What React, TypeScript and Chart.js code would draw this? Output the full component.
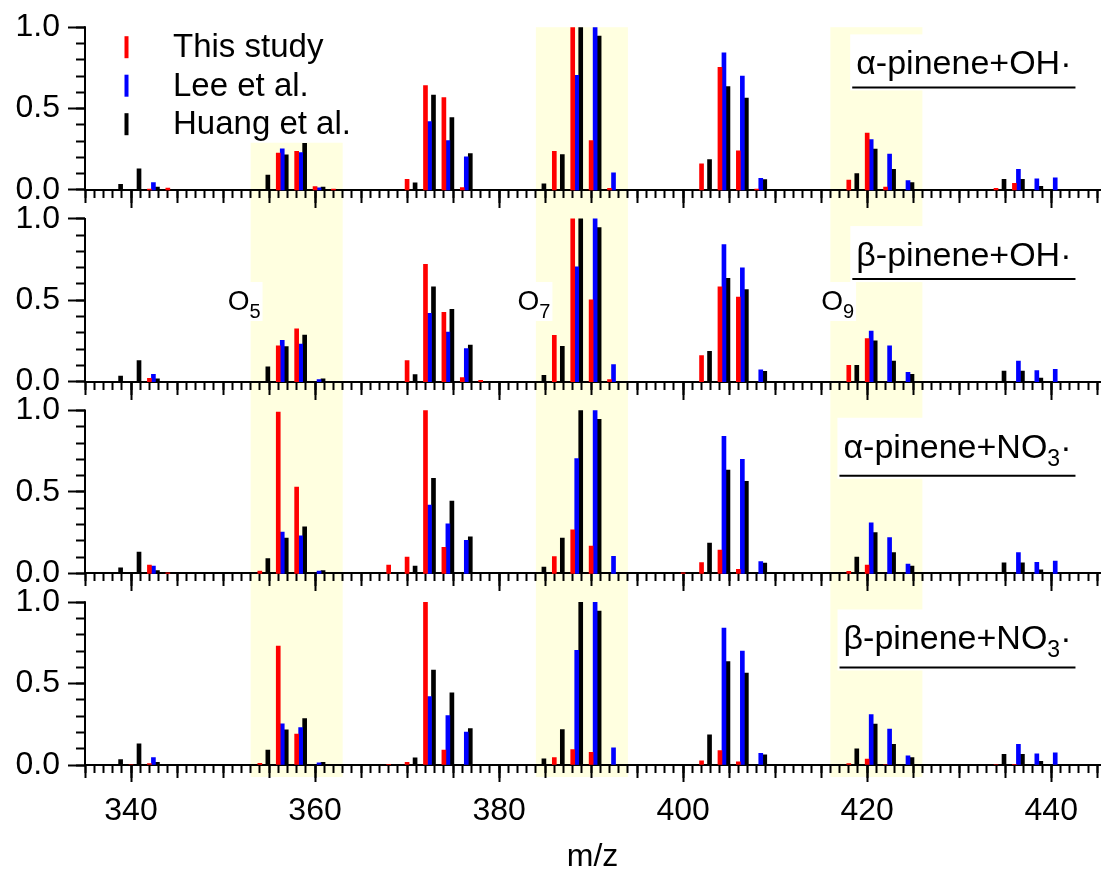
import React, { useEffect, useRef } from 'react';
import { Chart, registerables } from 'chart.js';

Chart.register(...registerables);

const FONT = '"Liberation Sans", Arial, Helvetica, sans-serif';

// nominal m/z of each peak triplet (position of the "This study" bar)
const mzValues = [338, 340, 342, 344, 354, 356, 358, 360, 362, 368, 370, 372, 374, 376, 378, 384, 386, 388, 390, 392, 400, 402, 404, 406, 408, 418, 420, 422, 424, 434, 436, 438, 440];

const thisStudyAlphaOH = [0, 0, 0.005, 0.012, 0, 0.227, 0.237, 0.02, 0.005, 0, 0.065, 0.642, 0.568, 0.015, 0, 0, 0.237, 1.0, 0.303, 0.01, 0, 0.161, 0.753, 0.24, 0.005, 0.06, 0.35, 0.018, 0, 0.01, 0.04, 0, 0];
const thisStudyBetaOH = [0, 0, 0.02, 0, 0, 0.22, 0.325, 0, 0, 0, 0.13, 0.72, 0.426, 0.025, 0.008, 0, 0.284, 1.0, 0.502, 0.012, 0, 0.16, 0.582, 0.519, 0, 0.1, 0.265, 0, 0, 0, 0, 0, 0];
const thisStudyAlphaNO3 = [0, 0, 0.05, 0.003, 0.014, 0.99, 0.53, 0, 0, 0.05, 0.1, 1.0, 0.16, 0, 0, 0, 0.103, 0.267, 0.167, 0, 0.003, 0.066, 0.142, 0.025, 0, 0.012, 0.05, 0, 0, 0, 0, 0, 0];
const thisStudyBetaNO3 = [0, 0.003, 0.008, 0, 0.01, 0.73, 0.19, 0, 0, 0.004, 0.017, 1.0, 0.092, 0, 0, 0, 0.045, 0.094, 0.078, 0, 0, 0.025, 0.088, 0.02, 0, 0.008, 0.037, 0.003, 0, 0.003, 0.004, 0, 0];
const leeValues = [0, 0, 0.045, 0, 0, 0.253, 0.23, 0.013, 0, 0, 0, 0.42, 0.304, 0.203, 0, 0, 0, 0.705, 1.0, 0.105, 0, 0, 0.842, 0.7, 0.072, 0, 0.31, 0.22, 0.057, 0, 0.127, 0.068, 0.075];
const huangValues = [0.034, 0.13, 0.017, 0, 0.091, 0.216, 0.286, 0.017, 0, 0, 0.044, 0.583, 0.444, 0.224, 0, 0.038, 0.217, 1.0, 0.946, 0, 0, 0.186, 0.635, 0.565, 0.063, 0.1, 0.251, 0.127, 0.045, 0.065, 0.065, 0.022, 0];

const thisStudyPanels = [thisStudyAlphaOH, thisStudyBetaOH, thisStudyAlphaNO3, thisStudyBetaNO3];

const seriesLabels = ['This study', 'Lee et al.', 'Huang et al.'];
const seriesColors = ['#ff0000', '#0000ff', '#000000'];
const seriesShift = [0, 0.435, 0.87];

const panelTitles = [
  { main: 'α-pinene+OH', sub: '', tail: '·' },
  { main: 'β-pinene+OH', sub: '', tail: '·' },
  { main: 'α-pinene+NO', sub: '3', tail: '·' },
  { main: 'β-pinene+NO', sub: '3', tail: '·' },
];

const xTickValues = [340, 360, 380, 400, 420, 440];
const xMidStep = 5;
const xMinorStep = 1;
const yTickValues = [0, 0.5, 1.0];
const yMinorStep = 0.1;

const bandStart = [353, 384, 416];
const bandEnd = [363, 394, 426];
const bandTopInFirstPanel = [0.29, 1.0, 1.0];
const BAND_COLOR = '#ffffe0';

const oxygenSubs = ['5', '7', '9'];
const oxygenLabelX = [350.5, 382, 415];
const oxygenLabelPanel = 1;
const oxygenLabelY = 0.44;

const X_MIN = 335;
const X_MAX = 445.3;
const PANELS = 4;
const PANEL_STEP = 192 / 163;
const Y_MAX = (PANELS - 1) * PANEL_STEP + 1;
const panelBase = (p: number) => (PANELS - 1 - p) * PANEL_STEP;

const TITLE_RIGHT_MZ = 442.2;
const TITLE_BASELINE = 0.71;
const TITLE_SIZE = 34;

function stepTicks(min: number, max: number, step: number) {
  const out: { value: number }[] = [];
  for (let v = Math.ceil(min / step - 1e-9) * step; v <= max + 1e-9; v += step) out.push({ value: v });
  return out;
}

const tickGrid = (len: number) => ({
  display: true,
  offset: false,
  drawOnChartArea: false,
  drawTicks: true,
  tickLength: len,
  tickWidth: 2,
  tickColor: '#000',
});

function buildScales() {
  const scales: any = {
    x: {
      type: 'linear',
      position: 'bottom',
      offset: false,
      min: X_MIN,
      max: X_MAX,
      bounds: 'data',
      afterBuildTicks: (s: any) => { s.ticks = xTickValues.map((v) => ({ value: v })); },
      afterFit: (s: any) => { s.height = 108; },
      grid: tickGrid(17),
      border: { display: true, width: 2, color: '#000' },
      ticks: { autoSkip: false, maxRotation: 0, padding: 10, color: '#000', font: { family: FONT, size: 32 }, callback: (v: any) => String(v) },
      title: { display: true, text: 'm/z', color: '#000', font: { family: FONT, size: 32, lineHeight: 1 }, padding: { top: 0, bottom: 0 } },
    },
    y: {
      type: 'linear',
      position: 'left',
      offset: false,
      min: 0,
      max: Y_MAX,
      bounds: 'data',
      afterBuildTicks: (s: any) => {
        const t: { value: number }[] = [];
        for (let p = PANELS - 1; p >= 0; p--) yTickValues.forEach((v) => t.push({ value: panelBase(p) + v }));
        s.ticks = t;
      },
      afterFit: (s: any) => { s.width = 85; },
      grid: tickGrid(17),
      border: { display: false },
      ticks: {
        autoSkip: false,
        padding: 8,
        color: '#000',
        font: { family: FONT, size: 32 },
        callback: (_v: any, i: number) => yTickValues[i % yTickValues.length].toFixed(1),
      },
    },
    yMinor: {
      type: 'linear',
      axis: 'y',
      position: { x: X_MIN },
      offset: false,
      min: 0,
      max: Y_MAX,
      bounds: 'data',
      afterBuildTicks: (s: any) => {
        const t: { value: number }[] = [];
        for (let p = PANELS - 1; p >= 0; p--) {
          for (let k = 0; k <= 10; k++) t.push({ value: panelBase(p) + k * yMinorStep });
        }
        s.ticks = t;
      },
      grid: tickGrid(9),
      border: { display: false },
      ticks: { display: false },
    },
  };
  for (let p = 0; p < PANELS; p++) {
    const pos = { y: panelBase(p) };
    scales['xMinor' + p] = {
      type: 'linear', axis: 'x', position: pos, offset: false, min: X_MIN, max: X_MAX, bounds: 'data',
      afterBuildTicks: (s: any) => { s.ticks = stepTicks(X_MIN, X_MAX, xMinorStep); },
      grid: tickGrid(8), border: { display: false }, ticks: { display: false },
    };
    scales['xMid' + p] = {
      type: 'linear', axis: 'x', position: pos, offset: false, min: X_MIN, max: X_MAX, bounds: 'data',
      afterBuildTicks: (s: any) => { s.ticks = stepTicks(X_MIN, X_MAX, xMidStep); },
      grid: tickGrid(13), border: { display: false }, ticks: { display: false },
    };
    if (p < PANELS - 1) {
      scales['xMajor' + p] = {
        type: 'linear', axis: 'x', position: pos, offset: false, min: X_MIN, max: X_MAX, bounds: 'data',
        afterBuildTicks: (s: any) => { s.ticks = xTickValues.map((v) => ({ value: v })); },
        grid: tickGrid(17), border: { display: true, width: 2, color: '#000' }, ticks: { display: false },
      };
    }
  }
  return scales;
}

function buildDatasets() {
  const ds: any[] = [];
  for (let p = 0; p < PANELS; p++) {
    const base = panelBase(p);
    const series = [thisStudyPanels[p], leeValues, huangValues];
    series.forEach((vals, s) => {
      ds.push({
        type: 'bar',
        label: seriesLabels[s],
        data: mzValues
          .map((mz, i) => ({ x: mz + seriesShift[s], y: [base, base + vals[i]], v: vals[i] }))
          .filter((d) => d.v > 0)
          .map((d) => ({ x: d.x, y: d.y })),
        backgroundColor: seriesColors[s],
        borderWidth: 0,
        barThickness: 4,
        grouped: false,
        xAxisID: 'x',
        yAxisID: 'y',
      });
    });
  }
  return ds;
}

const overlayPlugin = {
  id: 'overlayPlugin',
  beforeDraw(chart: any) {
    const { ctx, chartArea, scales } = chart;
    const xs = scales.x;
    const ys = scales.y;
    ctx.save();
    ctx.fillStyle = BAND_COLOR;
    bandStart.forEach((s, i) => {
      const x0 = xs.getPixelForValue(s);
      const x1 = xs.getPixelForValue(bandEnd[i]);
      const yTop = ys.getPixelForValue(panelBase(0) + bandTopInFirstPanel[i]);
      const yBot = chartArea.bottom + 12;
      ctx.fillRect(x0, yTop, x1 - x0, yBot - yTop);
    });
    ctx.restore();
  },
  afterDatasetsDraw(chart: any) {
    const { ctx, chartArea, scales } = chart;
    const xs = scales.x;
    const ys = scales.y;
    ctx.save();
    // y-axis line for each panel
    ctx.strokeStyle = '#000';
    ctx.lineWidth = 2;
    for (let p = 0; p < PANELS; p++) {
      const yb = ys.getPixelForValue(panelBase(p));
      const yt = ys.getPixelForValue(panelBase(p) + 1);
      ctx.beginPath();
      ctx.moveTo(chartArea.left, yt - 1);
      ctx.lineTo(chartArea.left, yb + 1);
      ctx.stroke();
    }

    ctx.textAlign = 'left';
    ctx.textBaseline = 'alphabetic';

    // O5 / O7 / O9 labels
    oxygenLabelX.forEach((mz, i) => {
      const x0 = xs.getPixelForValue(mz);
      const yb = ys.getPixelForValue(panelBase(oxygenLabelPanel) + oxygenLabelY);
      ctx.font = `28px ${FONT}`;
      const wO = ctx.measureText('O').width;
      ctx.font = `20px ${FONT}`;
      const wS = ctx.measureText(oxygenSubs[i]).width;
      ctx.fillStyle = '#fff';
      ctx.fillRect(x0 - 1, yb - 28, wO + wS + 3, 39);
      ctx.fillStyle = '#000';
      ctx.font = `28px ${FONT}`;
      ctx.fillText('O', x0, yb);
      ctx.font = `20px ${FONT}`;
      ctx.fillText(oxygenSubs[i], x0 + wO, yb + 8);
    });

    // panel titles
    panelTitles.forEach((t, p) => {
      const right = xs.getPixelForValue(TITLE_RIGHT_MZ);
      const baseline = ys.getPixelForValue(panelBase(p) + TITLE_BASELINE);
      ctx.font = `${TITLE_SIZE}px ${FONT}`;
      const wm = ctx.measureText(t.main).width;
      const wt = ctx.measureText(t.tail).width;
      ctx.font = `23px ${FONT}`;
      const ws = t.sub ? ctx.measureText(t.sub).width : 0;
      const left = right - (wm + ws + wt);
      const ul = baseline + (t.sub ? 18 : 13);
      ctx.fillStyle = '#fff';
      ctx.fillRect(left - 6, baseline - 40, right - left + 11, ul + 3 - (baseline - 40));
      ctx.fillStyle = '#000';
      ctx.font = `${TITLE_SIZE}px ${FONT}`;
      ctx.fillText(t.main, left, baseline);
      if (t.sub) {
        ctx.font = `23px ${FONT}`;
        ctx.fillText(t.sub, left + wm, baseline + 8);
      }
      ctx.font = `${TITLE_SIZE}px ${FONT}`;
      ctx.fillText(t.tail, left + wm + ws, baseline);
      ctx.strokeStyle = '#000';
      ctx.lineWidth = 2;
      ctx.beginPath();
      ctx.moveTo(left - 4, ul);
      ctx.lineTo(right + 4, ul);
      ctx.stroke();
    });

    // legend
    const datasets = chart.data.datasets;
    for (let s = 0; s < seriesLabels.length; s++) {
      const d = datasets[s];
      const baseline = chartArea.top + 30 + s * 38.5;
      ctx.fillStyle = d.backgroundColor;
      ctx.fillRect(chartArea.left + 39.5, baseline - 21, 4, 22);
      ctx.fillStyle = '#000';
      ctx.font = `33px ${FONT}`;
      ctx.fillText(d.label, chartArea.left + 88, baseline);
    }
    ctx.restore();
  },
};

export default function App() {
  const ref = useRef<HTMLCanvasElement>(null);
  useEffect(() => {
    if (!ref.current) return;
    const chart = new Chart(ref.current, {
      type: 'bar',
      data: { datasets: buildDatasets() },
      options: {
        responsive: false,
        devicePixelRatio: 1,
        animation: false,
        events: [],
        layout: { padding: { left: 0, right: 2, top: 26, bottom: 0 } },
        plugins: { legend: { display: false }, tooltip: { enabled: false }, title: { display: false } },
        scales: buildScales(),
      } as any,
      plugins: [overlayPlugin],
    });
    return () => chart.destroy();
  }, []);
  return (
    <div style={{ position: 'fixed', left: 0, top: 0, width: 1102, height: 873, background: '#fff' }}>
      <canvas ref={ref} width={1102} height={873} style={{ display: 'block', width: 1102, height: 873 }} />
    </div>
  );
}
